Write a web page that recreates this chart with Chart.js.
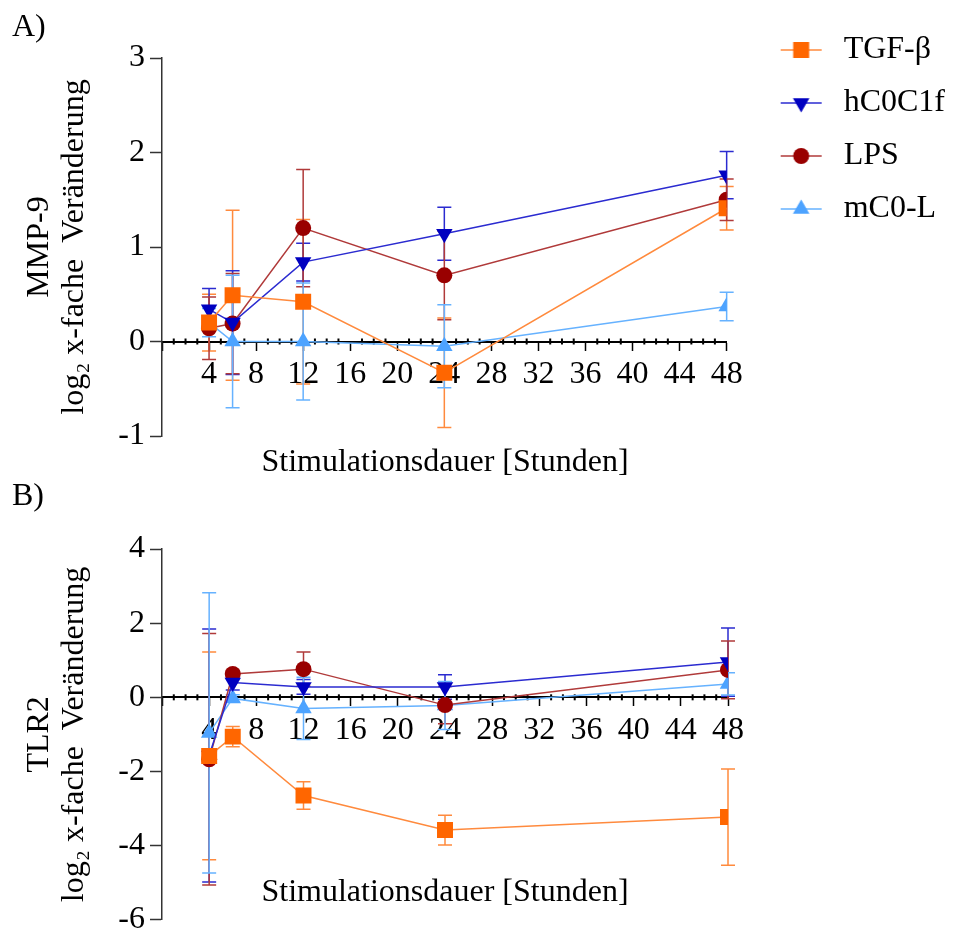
<!DOCTYPE html>
<html>
<head>
<meta charset="utf-8">
<script src="https://cdn.jsdelivr.net/npm/chart.js@4/dist/chart.umd.min.js"></script>
<style>
  html, body { margin:0; padding:0; background:#fff; }
  body { width:955px; height:938px; overflow:hidden; position:relative; }
  .wrap { position:absolute; left:0; }
  .lbl { position:absolute; font-family:"Liberation Serif", "Times New Roman", serif; font-size:32px; line-height:1; color:#000; white-space:nowrap; }
</style>
</head>
<body>
<div class="wrap" style="top:0;width:955px;height:480px"><canvas id="c1" width="955" height="480"></canvas></div>
<div class="wrap" style="top:480px;width:955px;height:464px"><canvas id="c2" width="955" height="464"></canvas></div>
<div class="lbl" style="left:12px;top:25px;transform:translateY(-50%)">A)</div>
<div class="lbl" style="left:12px;top:494px;transform:translateY(-50%)">B)</div>
<div class="lbl" style="left:445px;top:460px;transform:translate(-50%,-50%)">Stimulationsdauer [Stunden]</div>
<div class="lbl" style="left:445px;top:890px;transform:translate(-50%,-50%)">Stimulationsdauer [Stunden]</div>
<script>
// ---- data ----
const hours = [4, 6, 12, 24, 48];
const seriesNames = ['TGF-β', 'hC0C1f', 'LPS', 'mC0-L'];
const xTickLabels = [4, 8, 12, 16, 20, 24, 28, 32, 36, 40, 44, 48];

// Panel A: MMP-9 (log2 fold change, mean and error)
const mmp9_TGF      = [0.20, 0.49, 0.42, -0.33, 1.41];
const mmp9_TGF_err  = [0.30, 0.90, 0.87, 0.58, 0.23];
const mmp9_hC0C1f     = [0.34, 0.20, 0.84, 1.14, 1.76];
const mmp9_hC0C1f_err = [0.22, 0.55, 0.20, 0.28, 0.25];
const mmp9_LPS      = [0.14, 0.19, 1.20, 0.70, 1.50];
const mmp9_LPS_err  = [0.33, 0.53, 0.62, 0.47, 0.22];
const mmp9_mC0L     = [0.20, 0.00, 0.00, -0.05, 0.37];
const mmp9_mC0L_err = [0.15, 0.70, 0.62, 0.44, 0.15];

// Panel B: TLR2
const tlr2_TGF      = [-1.58, -1.06, -2.65, -3.58, -3.23];
const tlr2_TGF_err  = [2.80, 0.27, 0.37, 0.40, 1.30];
const tlr2_hC0C1f     = [-1.57, 0.40, 0.28, 0.28, 0.95];
const tlr2_hC0C1f_err = [3.41, 0.20, 0.20, 0.33, 0.92];
const tlr2_LPS      = [-1.67, 0.63, 0.76, -0.21, 0.74];
const tlr2_LPS_err  = [3.39, 0.10, 0.46, 0.50, 0.78];
const tlr2_mC0L     = [-0.96, -0.03, -0.30, -0.22, 0.36];
const tlr2_mC0L_err = [3.78, 0.10, 0.84, 0.65, 0.30];

// ---- styles ----
const FONT = '"Liberation Serif", "Times New Roman", serif';
const FS = 32;
Chart.defaults.font.family = FONT;
Chart.defaults.font.size = FS;
Chart.defaults.color = '#000';

const lineColors   = ['#FF8A3D', '#2B2BD0', '#B03A3A', '#66B2FF'];
const markerColors = ['#FF6600', '#0000C0', '#990000', '#4DA3FF'];
const pointStyles  = ['rect', 'triangle', 'circle', 'triangle'];
const pointRots    = [0, 180, 0, 0];
const pointRadii   = [11.3, 9.5, 8, 9.5];

function toPts(vals) { return hours.map((h, i) => ({x: h, y: vals[i]})); }

function makeDatasets(valsList, errList) {
  return seriesNames.map((name, i) => ({
    label: name,
    data: toPts(valsList[i]),
    errors: errList[i],
    borderColor: lineColors[i],
    borderWidth: 1.5,
    backgroundColor: markerColors[i],
    pointBackgroundColor: markerColors[i],
    pointBorderColor: markerColors[i],
    pointBorderWidth: 0,
    pointStyle: pointStyles[i],
    pointRotation: pointRots[i],
    pointRadius: pointRadii[i],
    pointHoverRadius: pointRadii[i],
    tension: 0,
    fill: false
  }));
}

// error bars drawn through the chart's scales
const errorBars = {
  id: 'errorBars',
  beforeDatasetsDraw(chart) {
    const {ctx} = chart;
    const xs = chart.scales.x, ys = chart.scales.y;
    chart.data.datasets.forEach((ds) => {
      ctx.save();
      ctx.strokeStyle = ds.borderColor;
      ctx.lineWidth = 1.5;
      ds.data.forEach((p, j) => {
        const e = ds.errors[j];
        const x = xs.getPixelForValue(p.x);
        const yt = ys.getPixelForValue(p.y + e);
        const yb = ys.getPixelForValue(p.y - e);
        ctx.beginPath();
        ctx.moveTo(x, yt); ctx.lineTo(x, yb);
        ctx.moveTo(x - 7, yt); ctx.lineTo(x + 7, yt);
        ctx.moveTo(x - 7, yb); ctx.lineTo(x + 7, yb);
        ctx.stroke();
      });
      ctx.restore();
    });
  }
};

// minor ticks along the zero axis
const minorTicks = {
  id: 'minorTicks',
  beforeDatasetsDraw(chart) {
    const {ctx} = chart;
    const xs = chart.scales.x, ys = chart.scales.y;
    const y0 = ys.getPixelForValue(0);
    ctx.save();
    ctx.strokeStyle = '#000';
    ctx.lineWidth = 2;
    for (let v = xs.min + 1; v < xs.max; v++) {
      if (v % 4 === 0) continue;
      const x = xs.getPixelForValue(v);
      ctx.beginPath();
      ctx.moveTo(x, y0 - 3); ctx.lineTo(x, y0 + 3);
      ctx.stroke();
    }
    ctx.restore();
  }
};

// legend symbols (line + marker) as images
const LEG_BOX = 80;
function legendImage(i) {
  const c = document.createElement('canvas');
  c.width = LEG_BOX; c.height = 30;
  const g = c.getContext('2d');
  g.strokeStyle = lineColors[i];
  g.lineWidth = 1.5;
  g.beginPath(); g.moveTo(33, 15); g.lineTo(74, 15); g.stroke();
  g.fillStyle = markerColors[i];
  g.strokeStyle = markerColors[i];
  if (Chart.helpers && Chart.helpers.drawPoint) {
    Chart.helpers.drawPoint(g, {pointStyle: pointStyles[i], radius: pointRadii[i], rotation: pointRots[i], borderWidth: 0}, 53.5, 15);
  }
  return c;
}

function yScale(min, max, step, titleLines) {
  return {
    type: 'linear', position: 'left', min: min, max: max,
    ticks: { stepSize: step, font: {family: FONT, size: FS}, color: '#000', padding: 5 },
    grid: { drawOnChartArea: false, drawTicks: true, tickLength: 12, tickColor: '#333', tickWidth: 1.5 },
    border: { display: true, color: '#333', width: 1.5 },
    title: { display: true, text: titleLines, color: '#000',
             font: {family: FONT, size: FS, lineHeight: 1.1}, padding: {top: 22, bottom: 0} },
    afterFit(s) { s.width = 162; }
  };
}

function xScale() {
  return {
    type: 'linear', position: {y: 0}, min: 0, max: 48,
    ticks: { stepSize: 4, autoSkip: false, maxRotation: 0, font: {family: FONT, size: FS}, color: '#000', padding: 6,
             callback: (v) => (xTickLabels.includes(v) ? String(v) : '') },
    grid: { drawOnChartArea: false, drawTicks: true, tickLength: 8, tickColor: '#000', tickWidth: 1.5 },
    border: { display: true, color: '#000', width: 2 }
  };
}

// measure widest legend label to keep chart area right edge identical in both panels
const mctx = document.createElement('canvas').getContext('2d');
mctx.font = FS + 'px ' + FONT;
const maxTextW = Math.max(...seriesNames.map(s => mctx.measureText(s).width));
const LEG_PAD = 21;
const legendWidth = LEG_PAD + LEG_BOX + FS / 2 + maxTextW + 10;
const CHART_RIGHT = 728;
const rightPadTop = Math.max(0, 955 - CHART_RIGHT - legendWidth);

const legendImgs = seriesNames.map((_, i) => legendImage(i));

new Chart(document.getElementById('c1'), {
  type: 'line',
  data: { datasets: makeDatasets([mmp9_TGF, mmp9_hC0C1f, mmp9_LPS, mmp9_mC0L],
                                 [mmp9_TGF_err, mmp9_hC0C1f_err, mmp9_LPS_err, mmp9_mC0L_err]) },
  options: {
    responsive: false, animation: false, events: [],
    layout: { padding: {left: 0, top: 13, right: rightPadTop, bottom: 44} },
    scales: { x: xScale(), y: yScale(-1, 3, 1, ['MMP-9', 'log₂ x-fache  Veränderung']) },
    plugins: {
      title: { display: true, text: '', padding: 0, font: {size: 10, lineHeight: 4.5} },
      tooltip: { enabled: false },
      legend: {
        display: true, position: 'right', align: 'start', fullSize: true,
        labels: {
          usePointStyle: true, pointStyleWidth: LEG_BOX, padding: LEG_PAD,
          font: {family: FONT, size: FS}, color: '#000',
          generateLabels: (chart) => chart.data.datasets.map((ds, i) => ({
            text: ds.label, pointStyle: legendImgs[i], datasetIndex: i, hidden: false,
            fillStyle: markerColors[i], strokeStyle: markerColors[i], lineWidth: 0, fontColor: '#000'
          }))
        }
      }
    }
  },
  plugins: [errorBars, minorTicks]
});

new Chart(document.getElementById('c2'), {
  type: 'line',
  data: { datasets: makeDatasets([tlr2_TGF, tlr2_hC0C1f, tlr2_LPS, tlr2_mC0L],
                                 [tlr2_TGF_err, tlr2_hC0C1f_err, tlr2_LPS_err, tlr2_mC0L_err]) },
  options: {
    responsive: false, animation: false, events: [],
    layout: { padding: {left: 0, top: 0, right: 955 - CHART_RIGHT, bottom: 16} },
    scales: { x: xScale(), y: yScale(-6, 4, 2, ['TLR2', 'log₂ x-fache  Veränderung']) },
    plugins: {
      title: { display: true, text: '', padding: 0, font: {size: 10, lineHeight: 6.9} },
      tooltip: { enabled: false },
      legend: { display: false }
    }
  },
  plugins: [errorBars, minorTicks]
});
</script>
</body>
</html>
